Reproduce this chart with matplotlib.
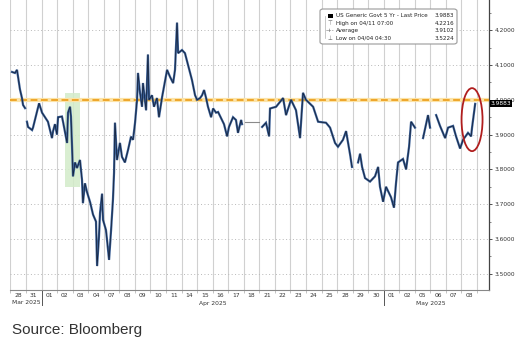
import numpy as np
import matplotlib
matplotlib.use("Agg")
import matplotlib.pyplot as plt
from matplotlib.patches import Ellipse, Rectangle, FancyBboxPatch
from matplotlib.transforms import blended_transform_factory

# ---------------- data ----------------
day_labels = ['28', '31', '01', '02', '03', '04', '07', '08', '09', '10', '11', '14', '15',
              '16', '17', '18', '21', '22', '23', '24', '25', '28', '29', '30', '01', '02',
              '05', '06', '07', '08']
month_labels = ['Mar 2025', 'Apr 2025', 'May 2025']
month_centers = [1.0, 13.0, 27.0]
month_breaks = [2, 24]

nan = np.nan
# time in trading days since start of 28 Mar (fractional), yield in %
t_vals = [0.10, 0.29, 0.42, 0.49, 0.61, 0.74, 0.81, 0.94, nan,
          1.06, 1.13, 1.39, 1.45, 1.71, 1.84, 2.03, 2.22, 2.41, 2.54, 2.67, 2.74, 2.86, 2.99,
          3.06, 3.31, 3.38, 3.64, 3.70, 3.83, 3.89, 3.96, 4.02, 4.15, 4.28, 4.47, 4.60, 4.66,
          4.79, 4.92, 5.12, 5.31, 5.50, 5.57, 5.69, 5.76, 5.89, 5.95, 6.14, 6.21, 6.34, 6.47,
          6.59, 6.66, 6.72, 6.85, 7.04, 7.17, 7.36, 7.56, 7.75, 7.88, 8.01, 8.14, 8.20, 8.33,
          8.46, 8.52, 8.72, 8.84, 8.91, 9.10, 9.23, 9.42, 9.55, 9.75, 9.87, 10.07, 10.26,
          10.46, 10.58, 10.71, 10.78, 11.03, 11.22, 11.42, 11.67, 11.87, 12.00, 12.19, 12.32,
          12.45, 12.58, 12.70, 12.90, 13.03, 13.22, 13.35, 13.60, 13.73, 13.93, 14.05, 14.31,
          14.50, 14.63, 14.83, 14.89, nan,
          16.18, 16.43, 16.63, 16.69, 17.08, 17.53, 17.72, 18.04, 18.36, 18.62, 18.81, 19.00,
          19.46, 19.78, 20.29, 20.55, 20.87, 21.06, 21.38, 21.58, 21.84, 21.96, nan,
          22.35, 22.48, 22.61, 22.80, 23.12, 23.44, 23.64, 23.76, 23.96, 24.15, 24.47, 24.66,
          24.79, 24.92, 25.24, 25.44, 25.63, 25.76, 26.01, nan,
          26.53, 26.85, 26.98, nan,
          27.37, 27.62, 27.95, 28.14, 28.46, 28.65, 28.91, 29.10, 29.42, 29.62, 29.68, 29.88]
y_vals = [4.080, 4.077, 4.086, 4.066, 4.030, 4.005, 3.985, 3.976, nan,
          3.937, 3.922, 3.913, 3.920, 3.966, 3.990, 3.963, 3.950, 3.937, 3.913, 3.890, 3.910,
          3.930, 3.900, 3.950, 3.952, 3.937, 3.876, 3.963, 3.980, 3.952, 3.865, 3.780, 3.820,
          3.804, 3.827, 3.770, 3.703, 3.760, 3.735, 3.706, 3.670, 3.650, 3.5224, 3.606, 3.675,
          3.730, 3.655, 3.626, 3.597, 3.540, 3.626, 3.713, 3.790, 3.934, 3.827, 3.876, 3.836,
          3.820, 3.856, 3.894, 3.885, 3.934, 4.000, 4.077, 4.020, 3.980, 4.048, 3.970, 4.130,
          4.000, 4.013, 3.980, 4.005, 3.950, 4.008, 4.037, 4.086, 4.066, 4.048, 4.086, 4.2216,
          4.134, 4.143, 4.134, 4.100, 4.057, 4.013, 4.000, 4.005, 4.013, 4.028, 4.005, 3.980,
          3.950, 3.975, 3.963, 3.965, 3.942, 3.930, 3.895, 3.922, 3.950, 3.942, 3.905, 3.942,
          3.930, nan,
          3.922, 3.934, 3.895, 3.975, 3.980, 4.005, 3.956, 4.000, 3.970, 3.890, 4.020, 4.000,
          3.980, 3.937, 3.934, 3.920, 3.876, 3.865, 3.885, 3.910, 3.842, 3.807, nan,
          3.820, 3.845, 3.807, 3.775, 3.765, 3.780, 3.807, 3.750, 3.707, 3.750, 3.720, 3.690,
          3.760, 3.820, 3.830, 3.800, 3.865, 3.937, 3.920, nan,
          3.890, 3.956, 3.920, nan,
          3.956, 3.925, 3.890, 3.920, 3.925, 3.895, 3.860, 3.885, 3.905, 3.895, 3.920, 3.9883]

holiday_t = [15.05, 15.98]
holiday_y = [3.936, 3.936]

y_ticks = [3.5, 3.6, 3.7, 3.8, 3.9, 4.0, 4.1, 4.2]
ref_level = 4.0
last_price = 3.9883
legend_rows = [("US Generic Govt 5 Yr - Last Price", "3.9883"),
               ("High on 04/11 07:00", "4.2216"),
               ("Average", "3.9102"),
               ("Low on 04/04 04:30", "3.5224")]

# ---------------- figure ----------------
W, H = 526, 346
fig = plt.figure(figsize=(W / 100, H / 100), dpi=100)
fig.patch.set_facecolor("white")
ax = fig.add_axes([10 / W, 56 / H, 479 / W, 290 / H])
ax.set_xlim(-0.03, 30.77)
ax.set_ylim(3.4534, 4.2868)

# grid
for k in range(0, 31):
    ax.axvline(k, color="#d0d0d0", lw=0.8, zorder=0)
for v in y_ticks:
    ax.axhline(v, color="#b8b8b8", lw=0.7, ls=(0, (1, 2.5)), zorder=0)

# green highlight
ax.add_patch(Rectangle((3.51, 3.75), 0.96, 0.27, facecolor="#d3ecc9", edgecolor="none",
                       alpha=0.85, zorder=1))

# orange reference line
ax.axhline(ref_level, color="#fbe3a8", lw=3.0, zorder=2)
ax.axhline(ref_level, color="#eea62a", lw=1.4, dashes=(3.5, 1.8), zorder=3)

# series
ax.plot(holiday_t, holiday_y, color="#8a8a8a", lw=0.8, zorder=4)
ax.plot(t_vals, y_vals, color="#3a5f96", lw=1.6, zorder=5, solid_joinstyle="miter")
ax.plot(t_vals, y_vals, color="#111d33", lw=0.5, zorder=6)

# red ellipse
ax.add_patch(Ellipse((29.68, 3.943), 1.35, 0.181, facecolor="none", edgecolor="#b01e1e",
                     lw=1.3, zorder=7))

# spines
for s in ["left", "top"]:
    ax.spines[s].set_visible(False)
ax.spines["right"].set_color("#444444")
ax.spines["right"].set_linewidth(0.9)
ax.spines["bottom"].set_color("#888888")
ax.spines["bottom"].set_linewidth(0.8)

# y axis on right
ax.yaxis.tick_right()
ax.set_yticks(y_ticks)
ax.set_yticklabels([f"{v:.4f}" for v in y_ticks])
ax.set_yticks([v + 0.05 for v in y_ticks], minor=True)
ax.tick_params(axis="y", which="major", direction="out", length=2.5, width=0.6,
               labelsize=4.2, pad=1.5, colors="#333333")
ax.tick_params(axis="y", which="minor", direction="out", length=1.5, width=0.5,
               colors="#555555")

# x axis
ax.set_xticks([k + 0.5 for k in range(len(day_labels))])
ax.set_xticklabels(day_labels)
ax.set_xticks(list(range(0, 31)), minor=True)
ax.tick_params(axis="x", which="major", length=0, labelsize=4.3, pad=2.5, colors="#333333")
ax.tick_params(axis="x", which="minor", length=2, width=0.5, colors="#aaaaaa")

bt = blended_transform_factory(ax.transData, fig.transFigure)
for mb in month_breaks:
    ax.plot([mb, mb], [(H - 290) / H, (H - 305) / H], transform=bt, color="#555555",
            lw=0.7, clip_on=False)
for lab, c in zip(month_labels, month_centers):
    ax.text(c, (H - 303) / H, lab, transform=bt, ha="center", va="center", fontsize=4.3,
            color="#333333")

# last price tag
bt2 = blended_transform_factory(ax.transAxes, ax.transData)
ax.text(1.004, last_price, "3.9883", transform=bt2, ha="left", va="center", fontsize=4.2,
        color="white", zorder=10, clip_on=False,
        bbox=dict(boxstyle="square,pad=0.15", facecolor="black", edgecolor="none"))

# legend box (figure pixel coords)
def fx(x):
    return x / W

def fy(y):
    return 1 - y / H

fig.patches.append(FancyBboxPatch((fx(320), fy(44)), 137 / W, 35 / H,
                                  boxstyle="round,pad=0,rounding_size=0.006",
                                  transform=fig.transFigure, facecolor="white",
                                  edgecolor="#9a9a9a", lw=0.8, zorder=20))
rows_y = [15.7, 23.6, 30.8, 38.0]
fig.add_artist(plt.Line2D([fx(325), fx(325)], [fy(15.7), fy(38)], color="#b0b0b0", lw=0.5,
                          zorder=21))
fig.add_artist(Rectangle((fx(328), fy(18)), 4.5 / W, 4.5 / H, transform=fig.transFigure,
                         facecolor="black", edgecolor="none", zorder=22))
icons = [None, "\u22a4", "-+-", "\u22a5"]
for (lab, val), yy, ic in zip(legend_rows, rows_y, icons):
    if ic is not None:
        fig.text(fx(330), fy(yy), ic, ha="center", va="center", fontsize=4.0,
                 color="#666666", zorder=22)
    fig.text(fx(336), fy(yy), lab, ha="left", va="center", fontsize=4.1, color="#222222",
             zorder=22)
    fig.text(fx(454), fy(yy), val, ha="right", va="center", fontsize=4.1, color="#222222",
             zorder=22)

# source
fig.text(fx(12), fy(330), "Source: Bloomberg", ha="left", va="center", fontsize=11,
         family="Liberation Sans", color="#333333")

fig.savefig("out.png", dpi=100)
